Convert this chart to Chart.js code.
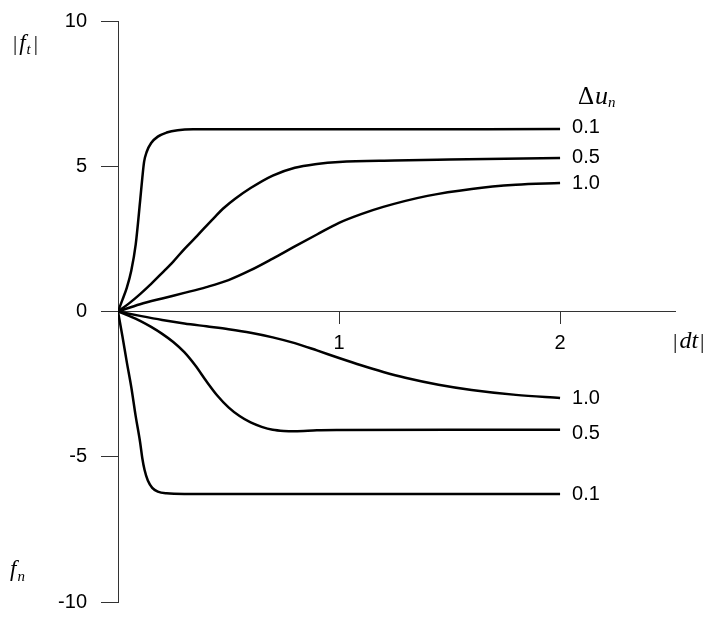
<!DOCTYPE html>
<html><head><meta charset="utf-8">
<style>html,body{margin:0;padding:0;background:#fff}#wrap{width:712px;height:618px;position:relative}</style>
</head><body><div id="wrap"><canvas id="c"></canvas></div>
<script src="https://cdn.jsdelivr.net/npm/chart.js@4.4.1/dist/chart.umd.min.js"></script>
<script>
// Tick values
const xTicks = [1, 2];
const yTicks = [-10, -5, 0, 5, 10];
// Series labels (Δu_n values)
const seriesLabels = ['0.1', '0.5', '1.0', '1.0', '0.5', '0.1'];

// |f_t| branch, Δu_n = 0.1
const xUp01 = [0, 0.02, 0.04, 0.06, 0.08, 0.1, 0.11, 0.118, 0.13, 0.15, 0.18, 0.22, 0.27, 0.34, 1.0, 2.0];
const yUp01 = [0, 0.4, 0.82, 1.4, 2.3, 3.8, 4.6, 5.15, 5.5, 5.8, 6.02, 6.16, 6.24, 6.27, 6.27, 6.28];
// |f_t| branch, Δu_n = 0.5
const xUp05 = [0, 0.05, 0.1, 0.15, 0.2, 0.25, 0.3, 0.36, 0.4, 0.44, 0.48, 0.53, 0.6, 0.7, 0.8, 0.9, 1.0, 1.25, 1.5, 2.0];
const yUp05 = [0, 0.28, 0.6, 0.95, 1.33, 1.72, 2.15, 2.62, 2.95, 3.27, 3.57, 3.88, 4.25, 4.68, 4.95, 5.08, 5.15, 5.2, 5.23, 5.28];
// |f_t| branch, Δu_n = 1.0
const xUp10 = [0, 0.1, 0.2, 0.3, 0.4, 0.5, 0.6, 0.7, 0.8, 0.9, 1.0, 1.1, 1.2, 1.4, 1.6, 1.8, 2.0];
const yUp10 = [0, 0.25, 0.45, 0.64, 0.84, 1.08, 1.42, 1.82, 2.24, 2.65, 3.05, 3.35, 3.6, 3.98, 4.22, 4.36, 4.42];
// f_n branch, Δu_n = 1.0
const xDn10 = [0, 0.1, 0.2, 0.3, 0.4, 0.5, 0.6, 0.7, 0.8, 0.9, 1.0, 1.1, 1.2, 1.3, 1.45, 1.6, 1.8, 2.0];
const yDn10 = [0, -0.15, -0.29, -0.41, -0.51, -0.61, -0.73, -0.89, -1.09, -1.34, -1.6, -1.85, -2.08, -2.28, -2.52, -2.7, -2.87, -2.98];
// f_n branch, Δu_n = 0.5
const xDn05 = [0, 0.05, 0.1, 0.15, 0.2, 0.25, 0.3, 0.35, 0.4, 0.45, 0.5, 0.55, 0.6, 0.65, 0.7, 0.75, 0.8, 0.9, 1.0, 1.5, 2.0];
const yDn05 = [0, -0.15, -0.32, -0.53, -0.77, -1.05, -1.4, -1.86, -2.4, -2.9, -3.3, -3.6, -3.82, -3.97, -4.07, -4.11, -4.12, -4.09, -4.08, -4.07, -4.07];
// f_n branch, Δu_n = 0.1
const xDn01 = [0, 0.02, 0.04, 0.06, 0.08, 0.1, 0.11, 0.12, 0.135, 0.155, 0.18, 0.22, 0.3, 1.0, 2.0];
const yDn01 = [0, -0.85, -1.75, -2.6, -3.6, -4.5, -5.05, -5.45, -5.82, -6.07, -6.2, -6.26, -6.28, -6.28, -6.28];

const seriesX = [xUp01, xUp05, xUp10, xDn10, xDn05, xDn01];
const seriesY = [yUp01, yUp05, yUp10, yDn10, yDn05, yDn01];

const datasets = seriesX.map((xs, i) => ({
  label: seriesLabels[i],
  data: xs.map((x, j) => ({x: x, y: seriesY[i][j]})),
  borderColor: '#000',
  borderWidth: 2.5,
  pointRadius: 0,
  fill: false,
  cubicInterpolationMode: 'monotone'
}));

function drawPieces(ctx, x, y, pieces) {
  ctx.save();
  ctx.fillStyle = '#000';
  ctx.textAlign = 'left';
  ctx.textBaseline = 'alphabetic';
  let cx = x;
  pieces.forEach(p => {
    ctx.font = p[1];
    ctx.fillText(p[0], cx + (p[3] || 0), y + p[2]);
    cx += ctx.measureText(p[0]).width + (p[3] || 0);
  });
  ctx.restore();
}

const annot = {
  id: 'annot',
  afterDatasetsDraw(chart) {
    const ctx = chart.ctx;
    const labelDy = [-2, -1, 0, 0, 4, 1];
    ctx.save();
    ctx.fillStyle = '#000';
    ctx.font = '20px "Liberation Sans", Arial, sans-serif';
    ctx.textAlign = 'left';
    ctx.textBaseline = 'middle';
    chart.data.datasets.forEach((ds, i) => {
      const pts = chart.getDatasetMeta(i).data;
      const p = pts[pts.length - 1];
      ctx.fillText(ds.label, p.x + 12, p.y + labelDy[i]);
    });
    ctx.restore();
    const serif = '"Liberation Serif", "Times New Roman", serif';
    drawPieces(ctx, 13, 50, [
      ['|', '21px ' + serif, 0],
      ['f', 'italic 23px ' + serif, 0, 2],
      ['t', 'italic 15px ' + serif, 4, 1],
      ['|', '21px ' + serif, 0, 3]
    ]);
    drawPieces(ctx, 10, 576, [
      ['f', 'italic 23px ' + serif, 0],
      ['n', 'italic 15px ' + serif, 5, 1]
    ]);
    drawPieces(ctx, 673, 348, [
      ['|', '22px ' + serif, 0],
      ['dt', 'italic 24px ' + serif, 0, 2],
      ['|', '22px ' + serif, 0, 2]
    ]);
    drawPieces(ctx, 578, 104, [
      ['Δ', '25px ' + serif, 0],
      ['u', 'italic 26px ' + serif, 0, 1],
      ['n', 'italic 15px ' + serif, 3, 0]
    ]);
  }
};

new Chart(document.getElementById('c'), {
  type: 'line',
  data: {datasets: datasets},
  options: {
    responsive: true,
    maintainAspectRatio: false,
    animation: false,
    layout: {padding: {left: 0, top: 21, right: 37, bottom: 16}},
    plugins: {legend: {display: false}, tooltip: {enabled: false}, title: {display: false}},
    scales: {
      x: {
        type: 'linear', min: 0, max: 2.52, position: {y: 0},
        afterBuildTicks: s => { s.ticks = xTicks.map(v => ({value: v})); },
        afterFit: s => { s.height = 0; s.paddingLeft = 0; s.paddingRight = 0; },
        grid: {drawOnChartArea: false, drawTicks: true, tickLength: 12, color: '#333', tickWidth: 1},
        border: {display: true, color: '#333', width: 1},
        ticks: {font: {family: '"Liberation Sans", Arial, sans-serif', size: 20}, color: '#000', padding: 8, maxRotation: 0, autoSkip: false}
      },
      y: {
        type: 'linear', min: -10, max: 10, position: 'left',
        afterBuildTicks: s => { s.ticks = yTicks.map(v => ({value: v})); },
        afterFit: s => { s.width = 118; s.paddingTop = 0; s.paddingBottom = 0; },
        grid: {drawOnChartArea: false, drawTicks: true, tickLength: 17, color: '#333', tickWidth: 1},
        border: {display: true, color: '#333', width: 1},
        ticks: {font: {family: '"Liberation Sans", Arial, sans-serif', size: 20}, color: '#000', padding: 14, autoSkip: false}
      }
    }
  },
  plugins: [annot]
});
</script></body></html>
